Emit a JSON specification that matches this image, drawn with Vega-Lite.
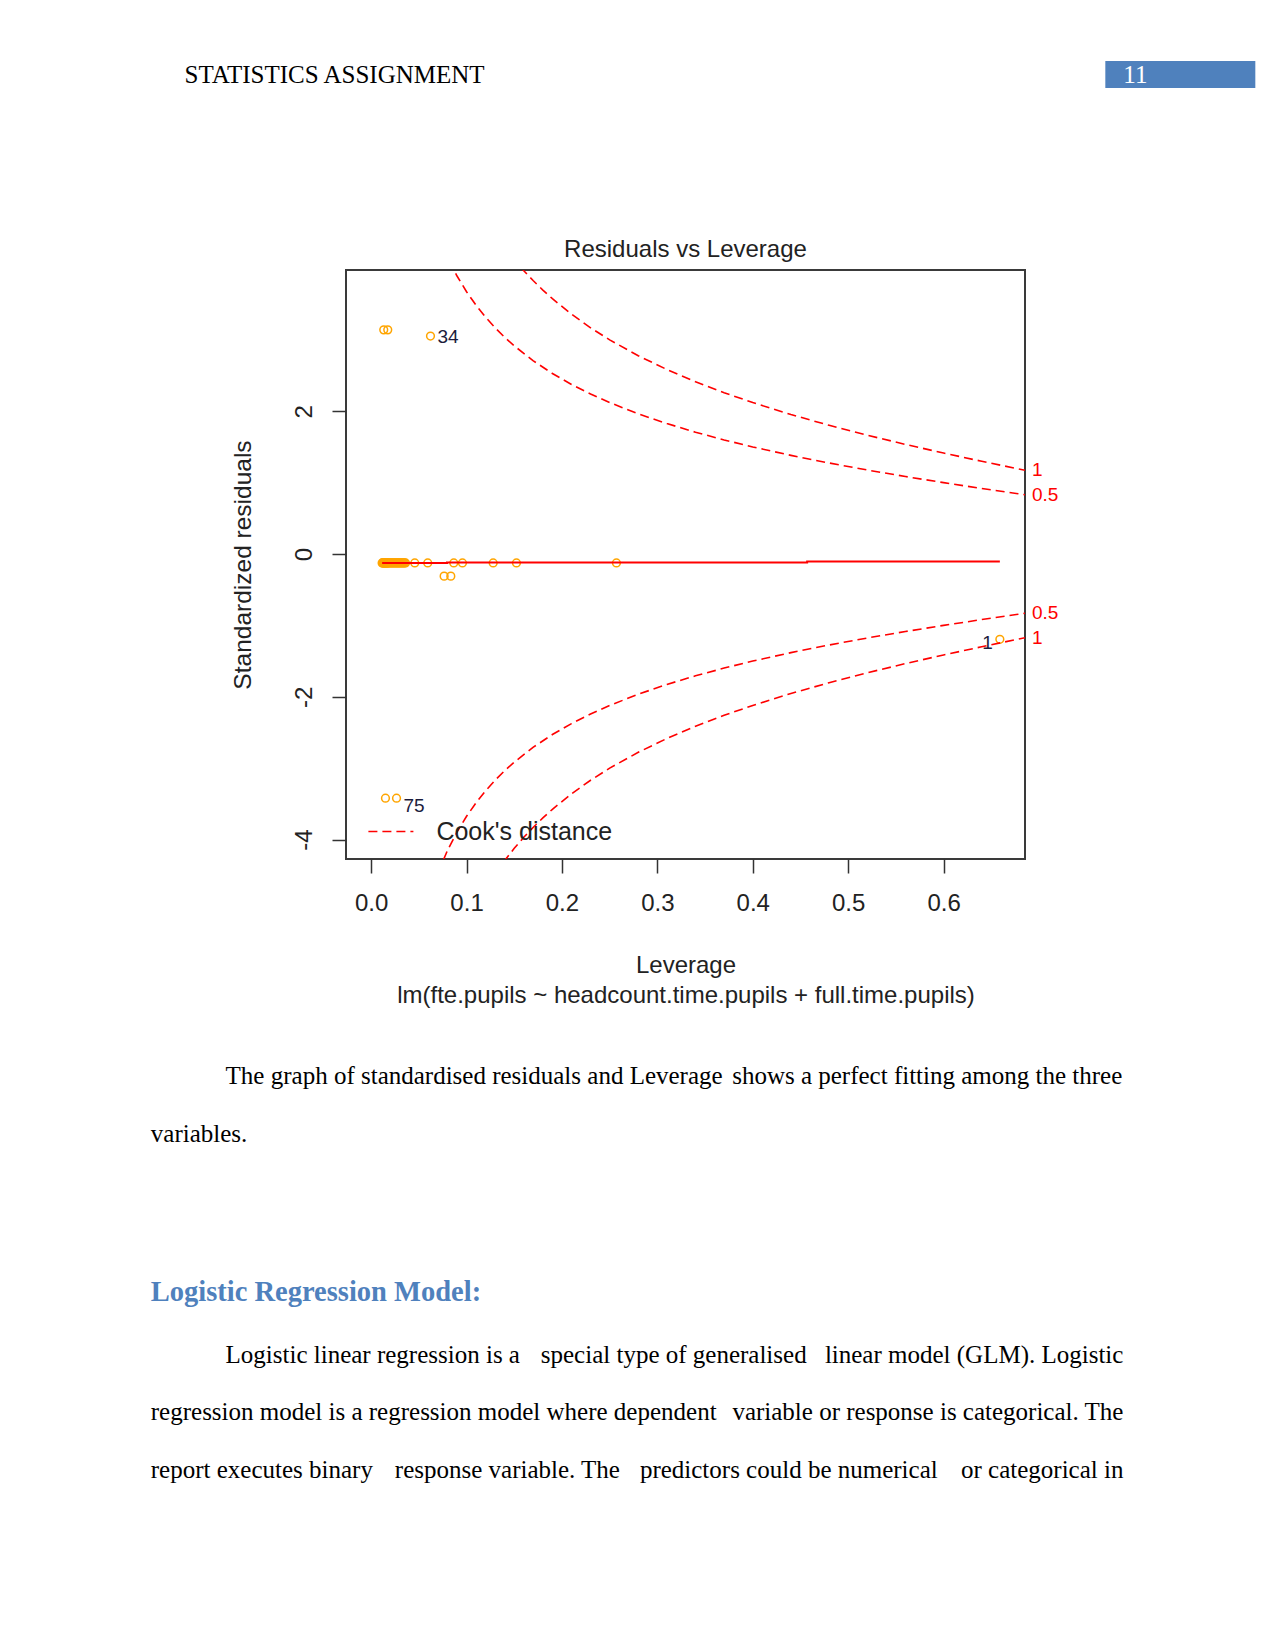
{
  "$schema": "https://vega.github.io/schema/vega-lite/v6.json",
  "width": 679,
  "height": 589,
  "autosize": {"type": "none"},
  "padding": {"left": 346, "top": 270, "right": 250, "bottom": 792},
  "background": "white",
  "config": {
    "view": {"stroke": "#3a3a3a", "strokeWidth": 2},
    "font": "Liberation Sans",
    "text": {"font": "Liberation Sans"}
  },
  "datasets": {
    "points": [
      {"lev": 0.0132, "res": 3.14}, {"lev": 0.0174, "res": 3.14},
      {"lev": 0.0622, "res": 3.053, "id": "34"},
      {"lev": 0.0150, "res": -3.42}, {"lev": 0.0266, "res": -3.42, "id": "75"},
      {"lev": 0.659, "res": -1.195, "id": "1"},
      {"lev": 0.0765, "res": -0.31}, {"lev": 0.0835, "res": -0.31},
      {"lev": 0.0115, "res": -0.125}, {"lev": 0.0120, "res": -0.125}, {"lev": 0.0125, "res": -0.125},
      {"lev": 0.0130, "res": -0.125}, {"lev": 0.0135, "res": -0.125}, {"lev": 0.0140, "res": -0.125},
      {"lev": 0.0145, "res": -0.125}, {"lev": 0.0150, "res": -0.125}, {"lev": 0.0155, "res": -0.125},
      {"lev": 0.0160, "res": -0.125}, {"lev": 0.0165, "res": -0.125}, {"lev": 0.0170, "res": -0.125},
      {"lev": 0.0175, "res": -0.125}, {"lev": 0.0180, "res": -0.125}, {"lev": 0.0190, "res": -0.125},
      {"lev": 0.0200, "res": -0.125}, {"lev": 0.0210, "res": -0.125}, {"lev": 0.0220, "res": -0.125},
      {"lev": 0.0230, "res": -0.125}, {"lev": 0.0240, "res": -0.125}, {"lev": 0.0250, "res": -0.125},
      {"lev": 0.0260, "res": -0.125}, {"lev": 0.0270, "res": -0.125}, {"lev": 0.0280, "res": -0.125},
      {"lev": 0.0290, "res": -0.125}, {"lev": 0.0300, "res": -0.125}, {"lev": 0.0310, "res": -0.125},
      {"lev": 0.0320, "res": -0.125}, {"lev": 0.0330, "res": -0.125}, {"lev": 0.0340, "res": -0.125},
      {"lev": 0.0350, "res": -0.125}, {"lev": 0.0360, "res": -0.125},
      {"lev": 0.0457, "res": -0.125}, {"lev": 0.0593, "res": -0.125}, {"lev": 0.0866, "res": -0.125},
      {"lev": 0.0957, "res": -0.125}, {"lev": 0.1279, "res": -0.125}, {"lev": 0.1523, "res": -0.125},
      {"lev": 0.2571, "res": -0.125}
    ],
    "smooth": [
      {"lev": 0.0115, "fit": -0.125}, {"lev": 0.0795, "fit": -0.125},
      {"lev": 0.0795, "fit": -0.118}, {"lev": 0.457, "fit": -0.118},
      {"lev": 0.457, "fit": -0.105}, {"lev": 0.659, "fit": -0.105}
    ],
    "cook": [
      {"h": 0.07, "level": "0.5", "upper": 4.4642, "lower": -4.4642},
      {"h": 0.08, "level": "0.5", "upper": 4.1533, "lower": -4.1533},
      {"h": 0.09, "level": "0.5", "upper": 3.8945, "lower": -3.8945},
      {"h": 0.10, "level": "0.5", "upper": 3.6742, "lower": -3.6742},
      {"h": 0.11, "level": "0.5", "upper": 3.4838, "lower": -3.4838},
      {"h": 0.12, "level": "0.5", "upper": 3.3166, "lower": -3.3166},
      {"h": 0.13, "level": "0.5", "upper": 3.1684, "lower": -3.1684},
      {"h": 0.14, "level": "0.5", "upper": 3.0355, "lower": -3.0355},
      {"h": 0.15, "level": "0.5", "upper": 2.9155, "lower": -2.9155},
      {"h": 0.17, "level": "0.5", "upper": 2.7062, "lower": -2.7062},
      {"h": 0.19, "level": "0.5", "upper": 2.5288, "lower": -2.5288},
      {"h": 0.21, "level": "0.5", "upper": 2.3755, "lower": -2.3755},
      {"h": 0.23, "level": "0.5", "upper": 2.2409, "lower": -2.2409},
      {"h": 0.25, "level": "0.5", "upper": 2.1213, "lower": -2.1213},
      {"h": 0.28, "level": "0.5", "upper": 1.9640, "lower": -1.9640},
      {"h": 0.31, "level": "0.5", "upper": 1.8272, "lower": -1.8272},
      {"h": 0.34, "level": "0.5", "upper": 1.7064, "lower": -1.7064},
      {"h": 0.37, "level": "0.5", "upper": 1.5982, "lower": -1.5982},
      {"h": 0.40, "level": "0.5", "upper": 1.5000, "lower": -1.5000},
      {"h": 0.44, "level": "0.5", "upper": 1.3817, "lower": -1.3817},
      {"h": 0.48, "level": "0.5", "upper": 1.2748, "lower": -1.2748},
      {"h": 0.52, "level": "0.5", "upper": 1.1767, "lower": -1.1767},
      {"h": 0.56, "level": "0.5", "upper": 1.0856, "lower": -1.0856},
      {"h": 0.60, "level": "0.5", "upper": 1.0000, "lower": -1.0000},
      {"h": 0.64, "level": "0.5", "upper": 0.9186, "lower": -0.9186},
      {"h": 0.68536, "level": "0.5", "upper": 0.8294, "lower": -0.8294},
      {"h": 0.13, "level": "1", "upper": 4.4808, "lower": -4.4808},
      {"h": 0.14, "level": "1", "upper": 4.2929, "lower": -4.2929},
      {"h": 0.15, "level": "1", "upper": 4.1231, "lower": -4.1231},
      {"h": 0.16, "level": "1", "upper": 3.9686, "lower": -3.9686},
      {"h": 0.17, "level": "1", "upper": 3.8272, "lower": -3.8272},
      {"h": 0.18, "level": "1", "upper": 3.6968, "lower": -3.6968},
      {"h": 0.19, "level": "1", "upper": 3.5763, "lower": -3.5763},
      {"h": 0.21, "level": "1", "upper": 3.3595, "lower": -3.3595},
      {"h": 0.23, "level": "1", "upper": 3.1691, "lower": -3.1691},
      {"h": 0.25, "level": "1", "upper": 3.0000, "lower": -3.0000},
      {"h": 0.28, "level": "1", "upper": 2.7775, "lower": -2.7775},
      {"h": 0.31, "level": "1", "upper": 2.5841, "lower": -2.5841},
      {"h": 0.34, "level": "1", "upper": 2.4132, "lower": -2.4132},
      {"h": 0.37, "level": "1", "upper": 2.2602, "lower": -2.2602},
      {"h": 0.40, "level": "1", "upper": 2.1213, "lower": -2.1213},
      {"h": 0.44, "level": "1", "upper": 1.9540, "lower": -1.9540},
      {"h": 0.48, "level": "1", "upper": 1.8028, "lower": -1.8028},
      {"h": 0.52, "level": "1", "upper": 1.6641, "lower": -1.6641},
      {"h": 0.56, "level": "1", "upper": 1.5353, "lower": -1.5353},
      {"h": 0.60, "level": "1", "upper": 1.4142, "lower": -1.4142},
      {"h": 0.64, "level": "1", "upper": 1.2990, "lower": -1.2990},
      {"h": 0.68536, "level": "1", "upper": 1.1729, "lower": -1.1729}
    ],
    "cookLabels": [
      {"h": 0.68536, "res": 1.1729, "label": "1"},
      {"h": 0.68536, "res": 0.8294, "label": "0.5"},
      {"h": 0.68536, "res": -0.8294, "label": "0.5"},
      {"h": 0.68536, "res": -1.1729, "label": "1"}
    ]
  },
  "layer": [
    {
      "data": {"name": "points"},
      "mark": {"type": "point", "shape": "circle", "filled": false, "color": "#FFA500", "strokeWidth": 1.5, "size": 60, "opacity": 1},
      "encoding": {
        "x": {"field": "lev", "type": "quantitative",
          "scale": {"domain": [-0.02636, 0.68536], "nice": false, "zero": false},
          "axis": {"values": [0, 0.1, 0.2, 0.3, 0.4, 0.5, 0.6], "format": ".1f", "grid": false, "domain": false,
            "tickSize": 14, "tickWidth": 1.5, "tickColor": "#333333",
            "labelFontSize": 24, "labelFont": "Liberation Sans", "labelColor": "#222222", "labelPadding": 18,
            "labelFlush": false, "labelOverlap": false,
            "title": ["Leverage", "lm(fte.pupils ~ headcount.time.pupils + full.time.pupils)"],
            "titleFontSize": 24, "titleFont": "Liberation Sans", "titleFontWeight": "normal", "titleColor": "#222222",
            "titlePadding": 38, "titleLineHeight": 30}},
        "y": {"field": "res", "type": "quantitative",
          "scale": {"domain": [-4.2725, 3.9785], "nice": false, "zero": false},
          "axis": {"values": [-4, -2, 0, 2], "grid": false, "domain": false,
            "labelExpr": "datum.value < 0 ? '-' + abs(datum.value) : '' + datum.value",
            "tickSize": 14, "tickWidth": 1.5, "tickColor": "#333333",
            "labelFontSize": 24, "labelFont": "Liberation Sans", "labelColor": "#222222",
            "labelAngle": -90, "labelAlign": "center", "labelBaseline": "alphabetic", "labelPadding": 21,
            "title": "Standardized residuals",
            "titleFontSize": 24.5, "titleFont": "Liberation Sans", "titleFontWeight": "normal", "titleColor": "#222222",
            "titlePadding": 37}}
      }
    },
    {
      "mark": {"type": "rule", "color": "#BBBBBB", "strokeDash": [2, 3], "strokeWidth": 1.2},
      "encoding": {"x": {"datum": 0, "type": "quantitative"}}
    },
    {
      "mark": {"type": "rule", "color": "#BBBBBB", "strokeDash": [2, 3], "strokeWidth": 1.2},
      "encoding": {"y": {"datum": 0, "type": "quantitative"}}
    },
    {
      "data": {"name": "smooth"},
      "mark": {"type": "line", "color": "#FF0000", "strokeWidth": 2},
      "encoding": {
        "x": {"field": "lev", "type": "quantitative"},
        "y": {"field": "fit", "type": "quantitative"},
        "order": {"field": "lev", "type": "quantitative"}
      }
    },
    {
      "data": {"name": "cook"},
      "mark": {"type": "line", "color": "#FF0000", "strokeWidth": 1.6, "clip": true},
      "encoding": {
        "x": {"field": "h", "type": "quantitative"},
        "y": {"field": "upper", "type": "quantitative"},
        "detail": {"field": "level"},
        "strokeDash": {"datum": "Cook's distance", "scale": {"range": [[9, 5]]},
          "legend": {"orient": "bottom-left", "title": null, "offset": 14, "padding": 0,
            "labelFontSize": 25, "labelFont": "Liberation Sans", "labelColor": "#222222",
            "labelOffset": 22, "labelLimit": 400, "symbolOffset": 7.4,
            "symbolType": "stroke", "symbolSize": 2025, "symbolStrokeWidth": 1.6, "symbolStrokeColor": "#FF0000",
            "symbolDash": [10, 5]}}
      }
    },
    {
      "data": {"name": "cook"},
      "mark": {"type": "line", "color": "#FF0000", "strokeWidth": 1.6, "clip": true},
      "encoding": {
        "x": {"field": "h", "type": "quantitative"},
        "y": {"field": "lower", "type": "quantitative"},
        "detail": {"field": "level"},
        "strokeDash": {"datum": "Cook's distance"}
      }
    },
    {
      "data": {"name": "cookLabels"},
      "mark": {"type": "text", "color": "#FF0000", "fontSize": 19, "align": "left", "baseline": "middle", "dx": 7},
      "encoding": {
        "x": {"field": "h", "type": "quantitative"},
        "y": {"field": "res", "type": "quantitative"},
        "text": {"field": "label"}
      }
    },
    {
      "data": {"name": "points"},
      "transform": [{"filter": "datum.id == '34'"}],
      "mark": {"type": "text", "color": "#1c1c3c", "fontSize": 19, "align": "left", "baseline": "middle", "dx": 7, "dy": 1},
      "encoding": {
        "x": {"field": "lev", "type": "quantitative"},
        "y": {"field": "res", "type": "quantitative"},
        "text": {"field": "id"}
      }
    },
    {
      "data": {"name": "points"},
      "transform": [{"filter": "datum.id == '75'"}],
      "mark": {"type": "text", "color": "#1c1c3c", "fontSize": 19, "align": "left", "baseline": "middle", "dx": 7, "dy": 8},
      "encoding": {
        "x": {"field": "lev", "type": "quantitative"},
        "y": {"field": "res", "type": "quantitative"},
        "text": {"field": "id"}
      }
    },
    {
      "data": {"name": "points"},
      "transform": [{"filter": "datum.id == '1'"}],
      "mark": {"type": "text", "color": "#1c1c3c", "fontSize": 19, "align": "right", "baseline": "middle", "dx": -7, "dy": 4},
      "encoding": {
        "x": {"field": "lev", "type": "quantitative"},
        "y": {"field": "res", "type": "quantitative"},
        "text": {"field": "id"}
      }
    },
    {
      "data": {"values": [{"text": "Residuals vs Leverage"}]},
      "mark": {"type": "text", "color": "#222222", "fontSize": 24, "align": "center", "baseline": "middle"},
      "encoding": {
        "x": {"datum": 0.3295, "type": "quantitative"},
        "y": {"datum": 4.2656, "type": "quantitative"},
        "text": {"field": "text"}
      }
    },
    {
      "data": {"values": [{"text": "STATISTICS ASSIGNMENT"}]},
      "mark": {"type": "text", "color": "#000000", "font": "Liberation Serif", "fontSize": 25, "align": "left", "baseline": "middle"},
      "encoding": {
        "x": {"datum": -0.19565, "type": "quantitative"},
        "y": {"datum": 6.7143, "type": "quantitative"},
        "text": {"field": "text"}
      }
    },
    {
      "data": {"values": [{"page": "11"}]},
      "mark": {"type": "rect", "color": "#4F81BD"},
      "encoding": {
        "x": {"datum": 0.76955, "type": "quantitative"},
        "x2": {"datum": 0.92678},
        "y": {"datum": 6.9062, "type": "quantitative"},
        "y2": {"datum": 6.5280}
      }
    },
    {
      "data": {"values": [{"page": "11"}]},
      "mark": {"type": "text", "color": "#FFFFFF", "font": "Liberation Serif", "fontSize": 25, "align": "left", "baseline": "middle"},
      "encoding": {
        "x": {"datum": 0.78842, "type": "quantitative"},
        "y": {"datum": 6.7171, "type": "quantitative"},
        "text": {"field": "page"}
      }
    },
    {
      "data": {"values": [{"text": "The graph of standardised residuals and Leverage"}]},
      "mark": {"type": "text", "color": "#000000", "font": "Liberation Serif", "fontSize": 25, "align": "left", "baseline": "middle"},
      "encoding": {
        "x": {"datum": -0.15257, "type": "quantitative"},
        "y": {"datum": -7.3125, "type": "quantitative"},
        "text": {"field": "text"}
      }
    },
    {
      "data": {"values": [{"text": "shows a perfect fitting among the three"}]},
      "mark": {"type": "text", "color": "#000000", "font": "Liberation Serif", "fontSize": 25, "align": "right", "baseline": "middle"},
      "encoding": {
        "x": {"datum": 0.78737, "type": "quantitative"},
        "y": {"datum": -7.3125, "type": "quantitative"},
        "text": {"field": "text"}
      }
    },
    {
      "data": {"values": [{"text": "variables."}]},
      "mark": {"type": "text", "color": "#000000", "font": "Liberation Serif", "fontSize": 25, "align": "left", "baseline": "middle"},
      "encoding": {
        "x": {"datum": -0.23098, "type": "quantitative"},
        "y": {"datum": -8.125, "type": "quantitative"},
        "text": {"field": "text"}
      }
    },
    {
      "data": {"values": [{"text": "Logistic Regression Model:"}]},
      "mark": {"type": "text", "color": "#4F81BD", "font": "Liberation Serif", "fontWeight": "bold", "fontSize": 28.5, "align": "left", "baseline": "middle"},
      "encoding": {
        "x": {"datum": -0.23098, "type": "quantitative"},
        "y": {"datum": -10.3355, "type": "quantitative"},
        "text": {"field": "text"}
      }
    },
    {
      "data": {"values": [{"text": "Logistic linear regression is a"}]},
      "mark": {"type": "text", "color": "#000000", "font": "Liberation Serif", "fontSize": 25, "align": "left", "baseline": "middle"},
      "encoding": {
        "x": {"datum": -0.15257, "type": "quantitative"},
        "y": {"datum": -11.2209, "type": "quantitative"},
        "text": {"field": "text"}
      }
    },
    {
      "data": {"values": [{"text": "special type of generalised"}]},
      "mark": {"type": "text", "color": "#000000", "font": "Liberation Serif", "fontSize": 25, "align": "center", "baseline": "middle"},
      "encoding": {
        "x": {"datum": 0.31714, "type": "quantitative"},
        "y": {"datum": -11.2209, "type": "quantitative"},
        "text": {"field": "text"}
      }
    },
    {
      "data": {"values": [{"text": "linear model (GLM). Logistic"}]},
      "mark": {"type": "text", "color": "#000000", "font": "Liberation Serif", "fontSize": 25, "align": "right", "baseline": "middle"},
      "encoding": {
        "x": {"datum": 0.78853, "type": "quantitative"},
        "y": {"datum": -11.2209, "type": "quantitative"},
        "text": {"field": "text"}
      }
    },
    {
      "data": {"values": [{"text": "regression model is a regression model where dependent"}]},
      "mark": {"type": "text", "color": "#000000", "font": "Liberation Serif", "fontSize": 25, "align": "left", "baseline": "middle"},
      "encoding": {
        "x": {"datum": -0.23098, "type": "quantitative"},
        "y": {"datum": -12.0166, "type": "quantitative"},
        "text": {"field": "text"}
      }
    },
    {
      "data": {"values": [{"text": "variable or response is categorical. The"}]},
      "mark": {"type": "text", "color": "#000000", "font": "Liberation Serif", "fontSize": 25, "align": "right", "baseline": "middle"},
      "encoding": {
        "x": {"datum": 0.78853, "type": "quantitative"},
        "y": {"datum": -12.0166, "type": "quantitative"},
        "text": {"field": "text"}
      }
    },
    {
      "data": {"values": [{"text": "report executes binary"}]},
      "mark": {"type": "text", "color": "#000000", "font": "Liberation Serif", "fontSize": 25, "align": "left", "baseline": "middle"},
      "encoding": {
        "x": {"datum": -0.23098, "type": "quantitative"},
        "y": {"datum": -12.8276, "type": "quantitative"},
        "text": {"field": "text"}
      }
    },
    {
      "data": {"values": [{"text": "response variable. The"}]},
      "mark": {"type": "text", "color": "#000000", "font": "Liberation Serif", "fontSize": 25, "align": "center", "baseline": "middle"},
      "encoding": {
        "x": {"datum": 0.14282, "type": "quantitative"},
        "y": {"datum": -12.8276, "type": "quantitative"},
        "text": {"field": "text"}
      }
    },
    {
      "data": {"values": [{"text": "predictors could be numerical"}]},
      "mark": {"type": "text", "color": "#000000", "font": "Liberation Serif", "fontSize": 25, "align": "center", "baseline": "middle"},
      "encoding": {
        "x": {"datum": 0.43779, "type": "quantitative"},
        "y": {"datum": -12.8276, "type": "quantitative"},
        "text": {"field": "text"}
      }
    },
    {
      "data": {"values": [{"text": "or categorical in"}]},
      "mark": {"type": "text", "color": "#000000", "font": "Liberation Serif", "fontSize": 25, "align": "right", "baseline": "middle"},
      "encoding": {
        "x": {"datum": 0.78853, "type": "quantitative"},
        "y": {"datum": -12.8276, "type": "quantitative"},
        "text": {"field": "text"}
      }
    }
  ]
}
